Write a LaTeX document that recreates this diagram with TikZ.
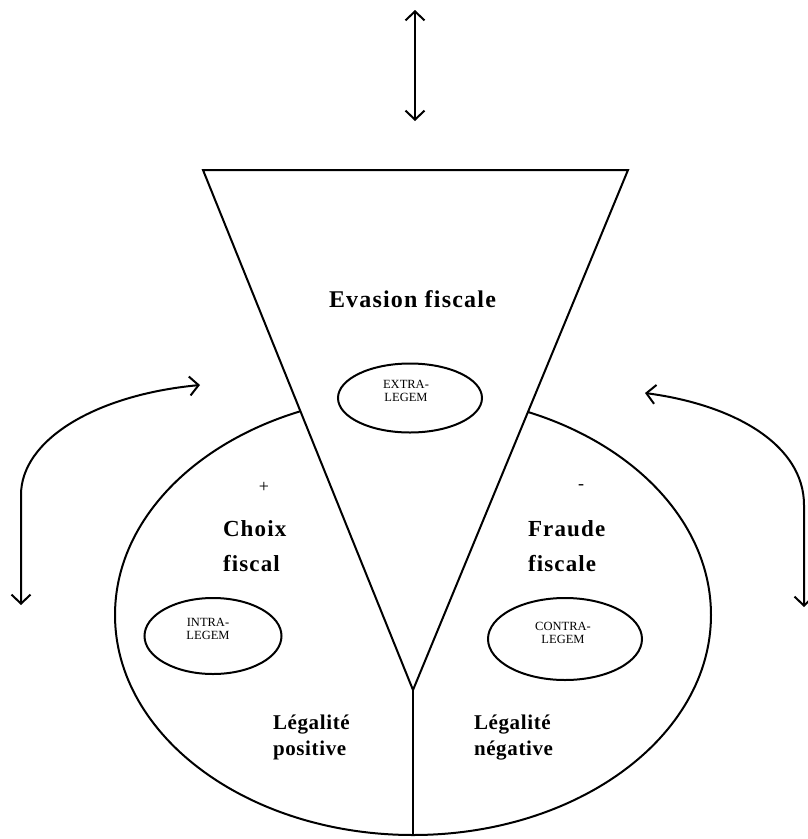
\documentclass[tikz,border=0pt]{standalone}
\usepackage{fontspec}
\setmainfont{Liberation Serif}
\newfontfamily\wideserif[LetterSpace=5]{Liberation Serif}
\newfontfamily\midserif[LetterSpace=3]{Liberation Serif}
\usetikzlibrary{arrows.meta,shapes.geometric}
\begin{document}
\begin{tikzpicture}[x=1pt,y=-1pt,
  line width=2pt,
  >={Straight Barb[length=9pt,width=19pt]},
  big/.style={font=\fontsize{23}{26}\selectfont\wideserif\bfseries, anchor=base west, inner sep=0pt},
  leg/.style={font=\fontsize{21}{24}\selectfont\midserif\bfseries, anchor=base west, inner sep=0pt},
  tiny/.style={font=\fontsize{12.5}{13.5}\selectfont, align=center, inner sep=0pt},
  small/.style={draw, ellipse, inner sep=0pt, line width=2pt}]
\useasboundingbox (0,0) rectangle (807,839);
% big ellipse
\draw (413,615) ellipse [x radius=298pt, y radius=220pt];
% triangle (covers ellipse top)
\coordinate (tl) at (203,170);
\coordinate (tr) at (628,170);
\coordinate (apex) at (413,690);
\coordinate (bot) at (413,835);
\filldraw[fill=white] (tl) -- (tr) -- (apex) -- cycle;
\draw (apex) -- (bot);
% top arrow
\coordinate (t1) at (415,10);
\coordinate (t2) at (415,121);
\draw[<->] (t1) -- (t2);
% side arrows
\coordinate (la) at (200,385);
\coordinate (lb) at (21,605);
\draw[<->] (la) .. controls (95,395) and (21,440) .. (21,495) -- (lb);
\coordinate (ra) at (645,393);
\coordinate (rb) at (804,607);
\draw[<->] (ra) .. controls (735,405) and (804,445) .. (804,505) -- (rb);
% small ellipses
\node[small, minimum width=144pt, minimum height=69pt] (ex) at (410,398) {};
\node[small, minimum width=137pt, minimum height=76pt] (in) at (213,636) {};
\node[small, minimum width=154pt, minimum height=82pt] (co) at (565,639) {};
\node[tiny] (ext) at (406,391) {EXTRA-\\LEGEM};
\node[tiny] (int) at (208,629) {INTRA-\\LEGEM};
\node[tiny] (cot) at (563,633) {CONTRA-\\LEGEM};
% labels
\node[font=\fontsize{24}{26}\selectfont\wideserif\bfseries, anchor=base west, inner sep=0pt] (ev) at (328,307) {Evasion fiscale};
\node[font=\fontsize{18}{20}\selectfont, inner sep=0pt] (plus) at (264,487) {+};
\node[font=\fontsize{18}{20}\selectfont, inner sep=0pt] (minus) at (581,487) {-};
\node[big] (choix1) at (222,536) {Choix};
\node[big] (choix2) at (222,571) {fiscal};
\node[big] (fraude1) at (527,536) {Fraude};
\node[big] (fraude2) at (527,571) {fiscale};
\node[leg] (lp1) at (272,729) {Légalité};
\node[leg] (lp2) at (272,755) {positive};
\node[leg] (ln1) at (473,729) {Légalité};
\node[leg] (ln2) at (473,755) {négative};
\end{tikzpicture}
\end{document}
